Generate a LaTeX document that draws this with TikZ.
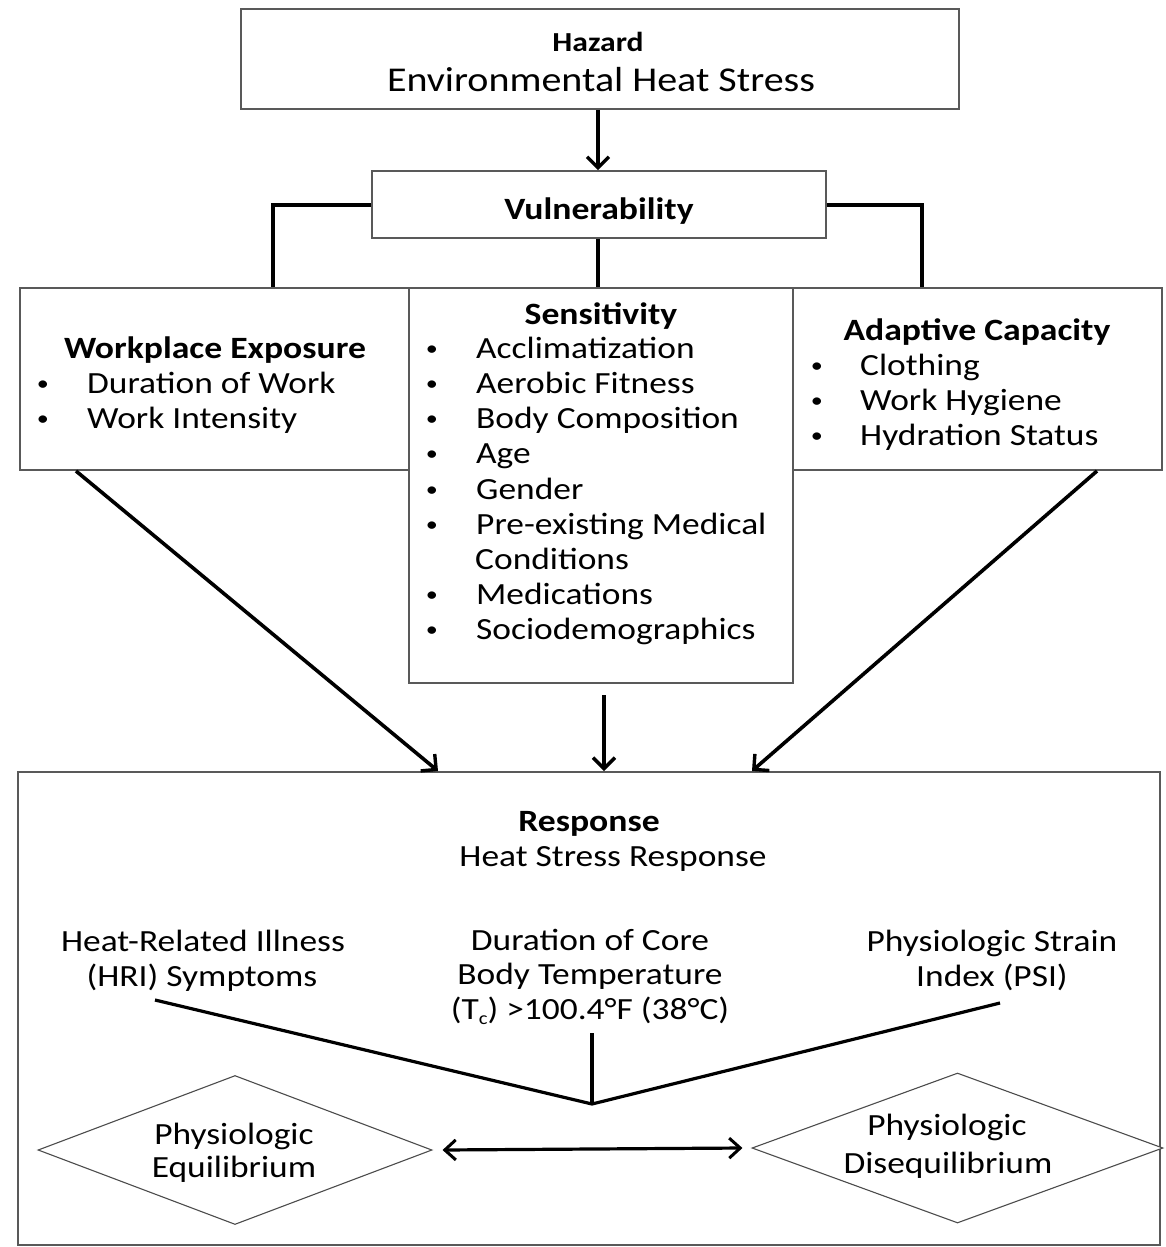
\documentclass[tikz,border=0pt]{standalone}
\usepackage{fontspec}
\setmainfont{Carlito}[FakeStretch=1.15]
\usetikzlibrary{arrows.meta,shapes.geometric}
\newcommand{\bodyf}{\fontsize{30.8}{35}\selectfont}
\newcommand{\headf}{\fontsize{31}{36}\selectfont\bfseries}
\newcommand{\hazb}{\fontsize{27.5}{32}\selectfont\bfseries}
\newcommand{\hazt}{\fontsize{34.8}{40}\selectfont}
\newcommand{\bul}{\raisebox{2.5pt}{\fontsize{21}{21}\selectfont •}}
\tikzset{
  box/.style={rectangle, draw=black!65, line width=1.6pt, fill=white, inner sep=0pt},
  dia/.style={diamond, draw=black!70, line width=1.1pt, fill=white, inner sep=0pt},
  conn/.style={line width=3.6pt, black},
  arr/.style={conn, -{Straight Barb[length=11pt,width=22pt,line width=3.4pt]}},
  darr/.style={line width=3.2pt, black, {Straight Barb[length=11pt,width=20pt,line width=3pt]}-{Straight Barb[length=11pt,width=20pt,line width=3pt]}},
  txt/.style={inner sep=0pt, anchor=base, font=\bodyf},
  lt/.style={txt, anchor=base west},
  hd/.style={inner sep=0pt, anchor=base, font=\headf},
}
\begin{document}
\begin{tikzpicture}[x=1pt,y=-1pt]
\useasboundingbox[fill=white] (0,0) rectangle (1166,1247);

% boxes
\node[box, minimum width=718pt, minimum height=100pt] (haz) at (600,59) {};
\node[box, minimum width=454pt, minimum height=67pt] (vul) at (599,204.5) {};
\node[box, minimum width=389pt, minimum height=182pt] (wp) at (214.5,379) {};
\node[box, minimum width=369pt, minimum height=182pt] (ad) at (977.5,379) {};
\node[box, minimum width=384pt, minimum height=395pt] (sen) at (601,485.5) {};
\node[box, minimum width=1142pt, minimum height=473pt] (resp) at (589,1008.5) {};
\node[dia, minimum width=394pt, minimum height=149pt] (eq) at (235,1150) {};
\node[dia, minimum width=411pt, minimum height=150pt] (deq) at (957.5,1148) {};

% hazard texts
\node[inner sep=0pt, anchor=base, font=\hazb] (hazT) at (598,52) {Hazard};
\node[inner sep=0pt, anchor=base, font=\hazt] (hazS) at (601,91) {Environmental Heat Stress};
\node[hd] (vulT) at (599,219) {Vulnerability};

% workplace
\node[hd] (wpT) at (215,358) {Workplace Exposure};
\node[txt] (wpb1) at (43,393) {\bul};
\node[lt] (wp1) at (87,393) {Duration of Work};
\node[txt] (wpb2) at (43,428) {\bul};
\node[lt] (wp2) at (87,428) {Work Intensity};

% sensitivity
\node[hd] (senT) at (601,324) {Sensitivity};
\foreach \i/\y/\t in {1/358/Acclimatization,2/393/Aerobic Fitness,3/428/Body Composition,4/463/Age,5/499/Gender,6/534/Pre-existing Medical,7/604/Medications,8/639/Sociodemographics}{
  \node[txt] (senb\i) at (432,\y) {\bul};
  \node[lt] (sen\i) at (476,\y) {\t};
}
\node[lt] (sen6b) at (475,569) {Conditions};

% adaptive
\node[hd] (adT) at (977,340) {Adaptive Capacity};
\foreach \i/\y/\t in {1/375/Clothing,2/410/Work Hygiene,3/445/Hydration Status}{
  \node[txt] (adb\i) at (817,\y) {\bul};
  \node[lt] (ad\i) at (860,\y) {\t};
}

% response
\node[hd] (respT) at (589,831) {Response};
\node[txt] (respS) at (613,866) {Heat Stress Response};
\node[txt] (hri1) at (203,951) {Heat-Related Illness};
\node[txt] (hri2) at (202,986) {(HRI) Symptoms};
\node[txt] (dur1) at (590,950) {Duration of Core};
\node[txt] (dur2) at (590,984) {Body Temperature};
\node[txt] (dur3) at (590,1019) {(T\raisebox{-5pt}{\fontsize{18}{18}\selectfont c}) >100.4°F (38°C)};
\node[txt] (psi1) at (992,951) {Physiologic Strain};
\node[txt] (psi2) at (992,986) {Index (PSI)};
\node[txt] (eq1) at (234,1144) {Physiologic};
\node[txt] (eq2) at (234,1177) {Equilibrium};
\node[txt] (deq1) at (947,1135) {Physiologic};
\node[txt] (deq2) at (948,1173) {Disequilibrium};

% connectors top
\draw[arr] (haz.south -| 598,0) -- (vul.north -| 598,0);
\coordinate (vl) at (273,205);
\coordinate (vr) at (922,205);
\draw[conn] (vul.west |- vl) -- (vl) -- (vl |- wp.north);
\draw[conn] (vul.east |- vr) -- (vr) -- (vr |- ad.north);
\draw[conn] (vul.south -| 598,0) -- (sen.north -| 598,0);

% arrows to response
\coordinate (wpo) at (76,471);
\coordinate (wpi) at (438,771);
\coordinate (sno) at (604,695);
\coordinate (sni) at (604,771);
\coordinate (ado) at (1097,471);
\coordinate (adi) at (752,771);
\draw[arr] (wpo) -- (wpi);
\draw[arr] (sno) -- (sni);
\draw[arr] (ado) -- (adi);

% response lines
\coordinate (j) at (592,1104);
\coordinate (hriE) at (155,1000);
\coordinate (durE) at (592,1033);
\coordinate (psiE) at (1000,1003);
\draw[conn, line width=3.2pt, line join=miter] (hriE) -- (j) -- (psiE);
\draw[conn, line width=3.2pt] (durE) -- (j);
\draw[darr] ([xshift=10pt]eq.east) -- ([xshift=-9pt]deq.west);
\end{tikzpicture}
\end{document}
